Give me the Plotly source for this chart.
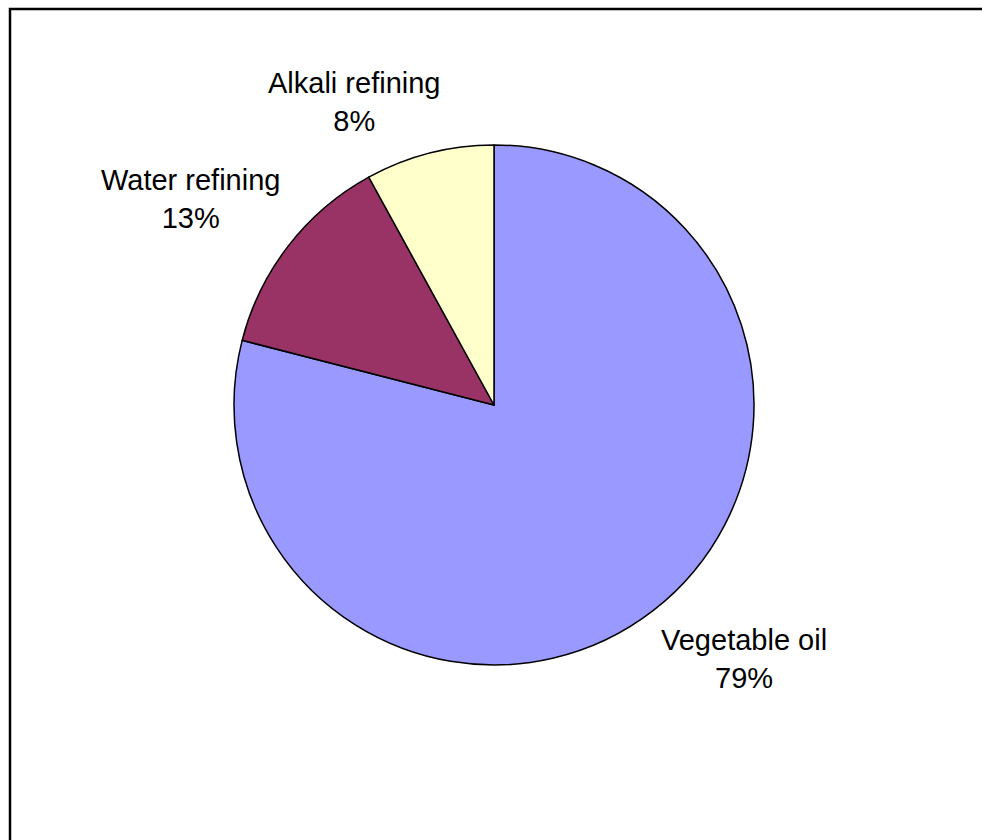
import math
import plotly.graph_objects as go

# Share of the total by source
categories = ["Vegetable oil", "Water refining", "Alkali refining"]
values = [79, 13, 8]
colors = ["#9999FF", "#993366", "#FFFFCC"]

W, H = 982, 840
CX, CY, R = 494, 405, 260          # pie centre and radius in pixels
LABEL_GAP = 15                      # distance of the label corner from the rim
LABEL_XSHIFT = {"Vegetable oil": -4, "Water refining": 5, "Alkali refining": 16}
FONT = dict(family="Liberation Sans, Arial, sans-serif", size=29, color="black")

fig = go.Figure(
    go.Pie(
        labels=categories,
        values=values,
        sort=False,
        direction="clockwise",
        rotation=0,
        marker=dict(colors=colors, line=dict(color="black", width=1.5)),
        textinfo="none",
        hoverinfo="label+percent",
        showlegend=False,
        domain=dict(x=[(CX - R) / W, (CX + R) / W],
                    y=[1 - (CY + R) / H, 1 - (CY - R) / H]),
    )
)

# Outside labels, placed at each slice's mid-angle just beyond the rim
total = sum(values)
start = 0.0
for name, v in zip(categories, values):
    frac = v / total
    mid = (start + frac / 2) * 2 * math.pi      # clockwise from 12 o'clock
    start += frac
    dx, dy = math.sin(mid), math.cos(mid)        # dy positive = upward
    px = CX + (R + LABEL_GAP) * dx
    py = CY - (R + LABEL_GAP) * dy
    pct = round(frac * 100)
    fig.add_annotation(
        x=px / W, y=1 - py / H, xref="paper", yref="paper",
        text=f"{name}<br>{pct}%",
        showarrow=False, align="center",
        xanchor="left" if dx >= 0 else "right",
        yanchor="bottom" if dy >= 0 else "top",
        xshift=LABEL_XSHIFT.get(name, 0),
        font=FONT,
    )

# Chart-area frame
fig.add_shape(
    type="rect", xref="paper", yref="paper",
    x0=10 / W, x1=1.05, y0=-0.05, y1=1 - 9 / H,
    line=dict(color="black", width=2.5), fillcolor="rgba(0,0,0,0)",
)

fig.update_layout(
    width=W, height=H,
    margin=dict(l=0, r=0, t=0, b=0),
    paper_bgcolor="white", plot_bgcolor="white",
)

fig.write_html("out.html")
